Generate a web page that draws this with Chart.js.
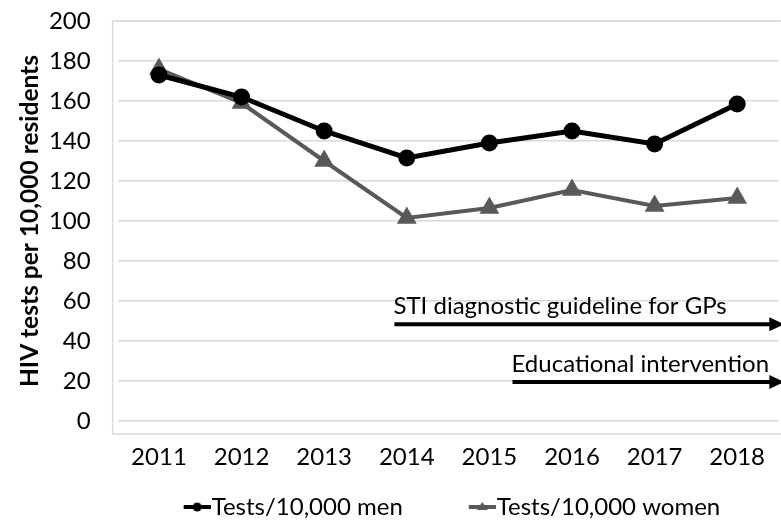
<!DOCTYPE html>
<html>
<head>
<meta charset="utf-8">
<script src="https://cdn.jsdelivr.net/npm/chart.js@4"></script>
<style>
  html, body { margin: 0; padding: 0; background: #fff; overflow: hidden; }
  /* a bit wider than the window: the right edge of the plot is cut off, as in the source image */
  #wrap { width: 790px; height: 523px; position: relative; }
</style>
</head>
<body>
<div id="wrap"><canvas id="hiv-tests"></canvas></div>
<script>
const years = ["2011", "2012", "2013", "2014", "2015", "2016", "2017", "2018"];
const menTests = [173, 162, 145, 131.5, 139, 145, 138.5, 158.5];
const womenTests = [176, 159, 130, 101.5, 106.5, 115.5, 107.5, 111.5];
const yTicks = [0, 20, 40, 60, 80, 100, 120, 140, 160, 180, 200];

// interventions: label, start (category position), level on the y axis
const eventLabels = ["STI diagnostic guideline for GPs", "Educational intervention"];
const eventStart = [2.85, 4.28];
const eventLevel = [48.4, 19.5];

const FONT = "Lato, 'Open Sans', sans-serif";
const gridGrey = "#d9d9d9";
const menColor = "#000000";
const womenColor = "#595959";

// short line + marker swatch for the legend, in the right end of a wide image
// (the blank left part gives the wide gap between the two legend entries)
function legendSwatch(color, style) {
  let c = document.createElement("canvas");
  c.width = 78;
  c.height = 18;
  let g = c.getContext("2d");
  g.strokeStyle = color;
  g.fillStyle = color;
  g.lineWidth = 4;
  g.beginPath();
  g.moveTo(51, 9);
  g.lineTo(78, 9);
  g.stroke();
  g.beginPath();
  if (style === "circle") {
    g.arc(64.5, 9, 4.5, 0, Math.PI * 2);
  } else {
    g.moveTo(64.5, 4);
    g.lineTo(70, 12);
    g.lineTo(59, 12);
    g.closePath();
  }
  g.fill();
  return c;
}

const plotFrame = {
  id: "plotFrame",
  beforeDraw(chart) {
    let { ctx, chartArea } = chart;
    ctx.save();
    ctx.strokeStyle = gridGrey;
    ctx.lineWidth = 1.5;
    ctx.strokeRect(chartArea.left - 5, chartArea.top, chartArea.right - chartArea.left + 10, chartArea.bottom - chartArea.top + 13);
    ctx.restore();
  },
};

const eventArrows = {
  id: "eventArrows",
  afterDatasetsDraw(chart) {
    let { ctx } = chart;
    let x = chart.scales.x;
    let y = chart.scales.y;
    ctx.save();
    eventLabels.forEach((label, i) => {
      let x1 = x.getPixelForValue(eventStart[i]);
      let x2 = x.getPixelForValue(7.57);
      let yy = y.getPixelForValue(eventLevel[i]);
      ctx.strokeStyle = "#000";
      ctx.fillStyle = "#000";
      ctx.lineWidth = 4;
      ctx.beginPath();
      ctx.moveTo(x1, yy);
      ctx.lineTo(x2 - 10, yy);
      ctx.stroke();
      ctx.beginPath();
      ctx.moveTo(x2, yy);
      ctx.lineTo(x2 - 15, yy - 7);
      ctx.lineTo(x2 - 15, yy + 7);
      ctx.closePath();
      ctx.fill();
      ctx.font = "24px " + FONT;
      ctx.textAlign = "left";
      ctx.textBaseline = "alphabetic";
      ctx.fillText(label, x1 - 1, yy - 10);
    });
    ctx.restore();
  },
};

let ctx = document.querySelector("#hiv-tests").getContext("2d");

let testsChart = new Chart(ctx, {
  type: "line",
  data: {
    labels: years,
    datasets: [
      {
        label: "Tests/10,000 men",
        data: menTests,
        borderColor: menColor,
        backgroundColor: menColor,
        borderWidth: 5,
        pointStyle: "circle",
        pointRadius: 6,
        tension: 0,
      },
      {
        label: "Tests/10,000 women",
        data: womenTests,
        borderColor: womenColor,
        backgroundColor: womenColor,
        borderWidth: 4,
        pointStyle: "triangle",
        pointRadius: 7.5,
        tension: 0,
      },
    ],
  },
  options: {
    responsive: true,
    maintainAspectRatio: false,
    animation: false,
    layout: {
      padding: { top: 21, right: 5, bottom: -6, left: 8 },
    },
    plugins: {
      legend: {
        position: "bottom",
        fullSize: false,
        align: "start",
        labels: {
          usePointStyle: true,
          pointStyleWidth: 56,
          padding: 26,
          color: "#000",
          font: { family: FONT, size: 24 },
          generateLabels: (chart) => {
            let items = Chart.defaults.plugins.legend.labels.generateLabels(chart);
            items[0].pointStyle = legendSwatch(menColor, "circle");
            items[1].pointStyle = legendSwatch(womenColor, "triangle");
            return items;
          },
        },
      },
      tooltip: { enabled: false },
    },
    scales: {
      x: {
        offset: true,
        grid: { display: true, drawOnChartArea: false, drawTicks: true, tickLength: 24, tickColor: "transparent", color: "transparent" },
        border: { display: false },
        ticks: {
          color: "#000",
          padding: 0,
          font: { family: FONT, size: 24, lineHeight: 1 },
        },
      },
      y: {
        min: 0,
        max: 200,
        afterBuildTicks: (scale) => {
          scale.ticks = yTicks.map((v) => ({ value: v }));
        },
        grid: { color: gridGrey, lineWidth: 1.5, drawTicks: true, tickLength: 27, tickColor: "transparent" },
        border: { display: false },
        ticks: {
          color: "#000",
          padding: 0,
          font: { family: FONT, size: 24 },
        },
        title: {
          display: true,
          text: "HIV tests per 10,000 residents",
          color: "#000",
          padding: { top: 7, bottom: 4.5 },
          font: { family: FONT, size: 24.5, weight: "bold" },
        },
      },
    },
  },
  plugins: [plotFrame, eventArrows],
});
</script>
</body>
</html>
